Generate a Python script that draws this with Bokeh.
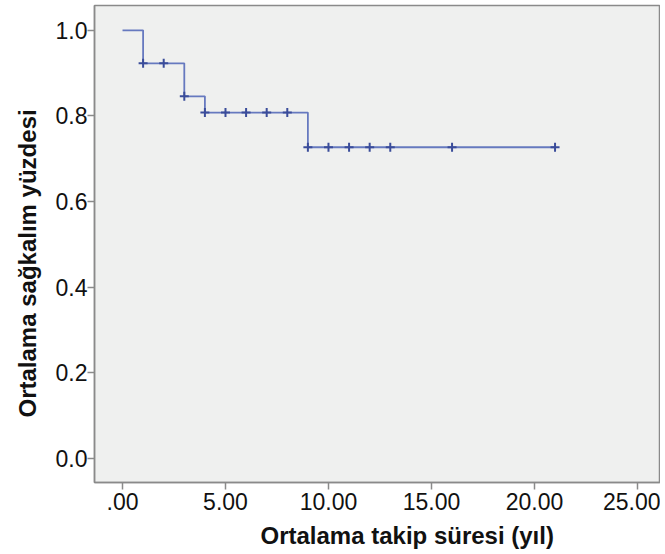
from bokeh.plotting import figure
from bokeh.models import Range1d, FixedTicker, NumeralTickFormatter, Title
from bokeh.embed import file_html
from bokeh.resources import INLINE

# Kaplan-Meier step curve
step_time = [0, 1, 3, 4, 9, 21]
step_surv = [1.0, 0.923, 0.846, 0.808, 0.727, 0.727]

# censored observations
cens_time = [1, 2, 3, 4, 5, 6, 7, 8, 9, 10, 11, 12, 13, 16, 21]
cens_surv = [0.923, 0.923, 0.846, 0.808, 0.808, 0.808, 0.808, 0.808,
             0.727, 0.727, 0.727, 0.727, 0.727, 0.727, 0.727]

x_ticks = [0, 5, 10, 15, 20, 25]
x_tick_labels = [".00", "5.00", "10.00", "15.00", "20.00", "25.00"]
y_ticks = [0.0, 0.2, 0.4, 0.6, 0.8, 1.0]

x_title = "Ortalama takip süresi (yıl)"
y_title = "Ortalama sağkalım yüzdesi"

FONT = "Liberation Sans"

p = figure(width=660, height=556, output_backend="svg", toolbar_location=None,
           x_range=Range1d(-1.36, 26.12), y_range=Range1d(-0.056, 1.058),
           min_border_left=94, min_border_right=0, min_border_top=5,
           min_border_bottom=74)

p.background_fill_color = "#eff0ef"
p.border_fill_color = "white"
p.outline_line_color = "#8a8a8a"
p.outline_line_width = 1.5
p.grid.visible = False

p.step(step_time, step_surv, mode="after", line_color="#6679bf", line_width=1.8)
p.scatter(cens_time, cens_surv, marker="cross", size=9, line_color="#3a4c9a",
          line_width=2)

p.xaxis.ticker = FixedTicker(ticks=x_ticks)
p.xaxis.major_label_overrides = {t: l for t, l in zip(x_ticks, x_tick_labels)}
p.yaxis.ticker = FixedTicker(ticks=y_ticks)
p.yaxis.formatter = NumeralTickFormatter(format="0.0")

for ax in (p.xaxis[0], p.yaxis[0]):
    ax.axis_line_color = "#8a8a8a"
    ax.axis_line_width = 1.5
    ax.major_tick_line_color = "#8a8a8a"
    ax.major_tick_line_width = 1.5
    ax.major_tick_out = 7
    ax.major_tick_in = 0
    ax.minor_tick_line_color = None
    ax.major_label_text_font = FONT
    ax.major_label_text_font_size = "23px"
    ax.major_label_text_color = "#111111"

p.xaxis.major_label_standoff = 3
p.yaxis.major_label_standoff = 0

p.add_layout(Title(text=x_title, align="left", offset=166, text_font=FONT,
                   text_font_style="bold", text_font_size="24px",
                   text_color="#111111", standoff=14), "below")
p.add_layout(Title(text=y_title, align="left", offset=65, text_font=FONT,
                   text_font_style="bold", text_font_size="24px",
                   text_color="#111111", standoff=23), "left")

open("out.html", "w").write(file_html(p, INLINE))
